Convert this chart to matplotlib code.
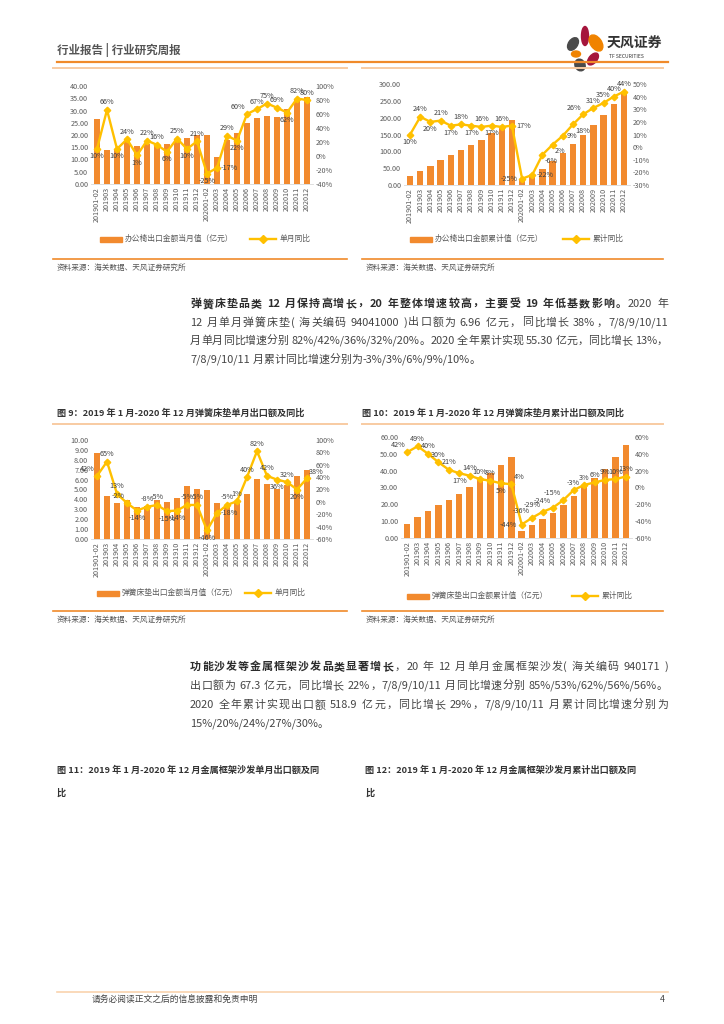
import re
import matplotlib.pyplot as plt
import numpy as np
from matplotlib.lines import Line2D
from matplotlib.patches import Rectangle, Ellipse

plt.rcParams['font.family'] = ['Noto Sans CJK SC', 'DejaVu Sans']

# ---- data ----
months = ['201901-02', '201903', '201904', '201905', '201906', '201907', '201908',
          '201909', '201910', '201911', '201912', '202001-02', '202003', '202004',
          '202005', '202006', '202007', '202008', '202009', '202010', '202011', '202012']

chair_month = [26.5, 13.8, 14.0, 17.5, 15.5, 16.3, 15.5, 16.2, 18.0, 18.8, 20.0,
               20.2, 11.0, 18.0, 20.8, 24.8, 27.0, 27.8, 27.3, 30.7, 34.3, 35.5]
chair_month_yoy = [10, 66, 10, 24, 1, 22, 16, 6, 25, 10, 21,
                   -25, -17, 29, 22, 60, 67, 75, 69, 62, 82, 80]

chair_cum = [26, 42, 55, 73, 88, 104, 118, 135, 153, 172, 193,
             18, 30, 48, 70, 96, 122, 150, 178, 209, 242, 276]
chair_cum_yoy = [10, 24, 20, 21, 17, 18, 17, 16, 17, 16, 17,
                 -25, -22, -6, 2, 9, 18, 26, 31, 35, 40, 44]

mattress_month = [8.72, 4.36, 3.66, 3.9, 3.2, 3.3, 3.9, 3.75, 4.1, 5.37, 5.07,
                  4.93, 3.62, 3.4, 3.7, 4.56, 6.04, 5.57, 5.1, 5.44, 6.34, 6.96]
mattress_month_yoy = [42, 65, 13, -2, -14, -8, -5, -15, -14, -5, -5,
                      -46, -18, -5, 1, 40, 82, 42, 36, 32, 20, 38]

mattress_cum = [8.3, 12.5, 16.2, 19.8, 22.8, 26.1, 30.1, 34.6, 38.5, 43.6, 48.1,
                4.2, 7.5, 11.3, 14.9, 19.8, 25.1, 30.5, 35.6, 41.0, 48.1, 55.3]
mattress_cum_yoy = [42, 49, 40, 30, 21, 17, 14, 10, 8, 5, 4,
                    -44, -36, -29, -24, -15, -3, 3, 6, 9, 10, 13]

# label placement per point (style only)
pos1 = ['b', 'a', 'b', 'a', 'b', 'a', 'a', 'b', 'a', 'b', 'a',
        'b', 'r', 'a', 'b', 'al', 'a', 'a', 'a', 'b', 'a', 'a']
pos2 = ['b', 'a', 'b', 'a', 'b', 'a', 'b', 'a', 'b', 'a', 'r',
        'l', 'r', 'br', 'br', 'r', 'br', 'al', 'a', 'a', 'a', 'a']
pos3 = ['al', 'a', 'a', 'al', 'b', 'a', 'a', 'b', 'b', 'a', 'a',
        'b', 'r', 'a', 'a', 'a', 'a', 'a', 'b', 'a', 'b', 'ar']
pos4 = ['al', 'a', 'a', 'a', 'a', 'b', 'a', 'a', 'a', 'b', 'ar',
        'l', 'al', 'al', 'al', 'al', 'a', 'a', 'a', 'a', 'a', 'a']

BAR_C = '#F28A2E'
LINE_C = '#FFC000'
TICK_C = '#595959'
ORANGE = '#F08A2A'
LIGHT = '#F8CBA2'

W, H = 724, 1024
fig = plt.figure(figsize=(7.24, 10.24), dpi=100)
renderer = fig.canvas.get_renderer()


def fx(x):
    return x / W


def fy(y):
    return 1 - y / H


def ftext(x, y, s, **kw):
    return fig.text(fx(x), fy(y), s, **kw)


def hline(x0, x1, y, color, lw):
    fig.add_artist(Line2D([fx(x0), fx(x1)], [fy(y), fy(y)], color=color, lw=lw))


OFF = {'a': ((0, 2.5), 'center', 'bottom'), 'b': ((0, -2.5), 'center', 'top'),
       'l': ((-3, 0), 'right', 'center'), 'r': ((3, 0), 'left', 'center'),
       'al': ((-1.5, 2), 'right', 'bottom'), 'ar': ((1.5, 2), 'left', 'bottom'),
       'br': ((1.5, -2), 'left', 'top')}


def draw_chart(box, bars, yoy, ylim, ystep, rlim, rstep, lbl_pos,
               bar_name, line_name, leg_y, leg_x):
    x0, y0, x1, y1 = box
    ax = fig.add_axes([fx(x0), fy(y1), fx(x1) - fx(x0), fy(y0) - fy(y1)])
    idx = np.arange(len(bars))
    ax.bar(idx, bars, width=0.62, color=BAR_C, zorder=2)
    ax.set_xlim(-0.6, len(bars) - 0.4)
    ax.set_ylim(*ylim)
    ax.set_yticks(np.arange(ylim[0], ylim[1] + ystep / 2, ystep))
    ax.yaxis.set_major_formatter(lambda v, p: f'{v:.2f}')
    ax.set_xticks(idx)
    ax.set_xticklabels(months, rotation=90, fontsize=4.7, color=TICK_C)
    ax.tick_params(length=0, pad=2, labelsize=5.2, labelcolor=TICK_C)
    for s in ['top', 'right', 'left']:
        ax.spines[s].set_visible(False)
    ax.spines['bottom'].set_color('#D9D9D9')
    ax.spines['bottom'].set_linewidth(0.6)

    ax2 = ax.twinx()
    y = np.array(yoy) / 100
    ax2.plot(idx, y, color=LINE_C, lw=1.7, marker='D', ms=3.3, zorder=3)
    ax2.set_ylim(*rlim)
    ax2.set_yticks(np.arange(rlim[0], rlim[1] + rstep / 2, rstep))
    ax2.yaxis.set_major_formatter(lambda v, p: f'{v * 100:.0f}%')
    ax2.tick_params(length=0, pad=2, labelsize=5.2, labelcolor=TICK_C)
    for s in ax2.spines.values():
        s.set_visible(False)
    for i, (v, p) in enumerate(zip(yoy, lbl_pos)):
        off, ha, va = OFF[p]
        ax2.annotate(f'{v}%', (i, v / 100), xytext=off, textcoords='offset points',
                     ha=ha, va=va, fontsize=5.2, color='#404040', annotation_clip=False)

    # legend
    fig.add_artist(Rectangle((fx(leg_x[0]), fy(leg_y + 2.5)), 22 / W, 5 / H,
                             color=BAR_C, transform=fig.transFigure))
    ftext(leg_x[0] + 25, leg_y, bar_name, fontsize=5.6, color=TICK_C, va='center')
    fig.add_artist(Line2D([fx(leg_x[1]), fx(leg_x[1] + 26)], [fy(leg_y), fy(leg_y)],
                          color=LINE_C, lw=1.7))
    fig.add_artist(Line2D([fx(leg_x[1] + 13)], [fy(leg_y)], color=LINE_C,
                          marker='D', ms=3.6))
    ftext(leg_x[1] + 30, leg_y, line_name, fontsize=5.6, color=TICK_C, va='center')


# ---- header ----
ftext(57, 50, '行业报告 | 行业研究周报', fontsize=8.3, color='#555555',
      fontweight='bold', va='center')
hline(57, 668, 61.5, ORANGE, 1.6)
logo = fig.add_axes([fx(562), fy(72), 46 / W, 50 / H])
logo.set_xlim(0, 46)
logo.set_ylim(50, 0)
logo.axis('off')
for (cx, cy, w, h, a, c) in [(11, 22, 9, 14, 35, '#4A4A4A'), (23, 14, 7, 19, 0, '#A5153C'),
                             (34, 21, 11, 18, -35, '#F08300'), (14, 32, 9, 6, 0, '#F08300'),
                             (31, 37, 8, 14, 40, '#A5153C'), (18, 43, 10, 12, -25, '#4A4A4A')]:
    logo.add_patch(Ellipse((cx, cy), w, h, angle=a, color=c))
ftext(607, 44, '天风证券', fontsize=10, fontweight='bold', color='#333333', va='center')
ftext(609, 57, 'TF SECURITIES', fontsize=3.6, color='#333333', va='center')
hline(53, 347, 67.5, LIGHT, 1.4)
hline(362, 663, 67.5, LIGHT, 1.4)

# ---- charts row 1 ----
draw_chart((91, 86, 313, 184), chair_month, chair_month_yoy, (0, 40), 5, (-0.4, 1.0), 0.2,
           pos1, '办公椅出口金额当月值（亿元）', '单月同比', 239, (100, 250))
draw_chart((404, 84, 630, 185), chair_cum, chair_cum_yoy, (0, 300), 50, (-0.3, 0.5), 0.1,
           pos2, '办公椅出口金额累计值（亿元）', '累计同比', 239, (410, 563))
hline(53, 347, 258.5, ORANGE, 1.2)
hline(362, 663, 258.5, ORANGE, 1.2)
ftext(57, 268, '资料来源：海关数据、天风证券研究所', fontsize=5.5, color='#555555', va='center')
ftext(366, 268, '资料来源：海关数据、天风证券研究所', fontsize=5.5, color='#555555', va='center')

# ---- paragraphs (justified between x=190 and x=668) ----
BODY = 7.9
PX0, PX1 = 190, 668
_probe = fig.text(0, 0, '', fontsize=BODY)


def text_w(s, bold):
    # advance width of s (the trailing 'x' keeps trailing spaces counted)
    _probe.set_fontweight('bold' if bold else 'normal')
    _probe.set_text(s + 'x')
    w1 = _probe.get_window_extent(renderer=renderer).width
    _probe.set_text('x')
    return w1 - _probe.get_window_extent(renderer=renderer).width


def tokens(s):
    return re.findall(r'[A-Za-z0-9.%/\-()]+| |.', s)


def para_line(y, bold, normal, justify=True):
    items = []
    done = ''
    for tk in tokens(bold):
        items.append((tk, True, text_w(done, True)))
        done += tk
    bw = text_w(bold, True) if bold else 0.0
    done = ''
    for tk in tokens(normal):
        items.append((tk, False, bw + text_w(done, False)))
        done += tk
    total = bw + text_w(normal, False)
    gap = (PX1 - PX0 - total) / (len(items) - 1) if justify else 0.0
    for k, (tk, b, o) in enumerate(items):
        if tk == ' ':
            continue
        ftext(PX0 + o + k * gap, y, tk, fontsize=BODY, va='center',
              fontweight='bold' if b else 'normal',
              color='#2b2b2b' if b else '#444444')


para_line(304, '弹簧床垫品类 12 月保持高增长，20 年整体增速较高，主要受 19 年低基数影响。', '2020 年')
para_line(322.5, '', '12 月单月弹簧床垫( 海关编码 94041000 )出口额为 6.96 亿元，同比增长 38%，7/8/9/10/11')
para_line(341, '', '月单月同比增速分别 82%/42%/36%/32%/20%。2020 全年累计实现 55.30 亿元，同比增长 13%，')
para_line(359.5, '', '7/8/9/10/11 月累计同比增速分别为-3%/3%/6%/9%/10%。', justify=False)

# ---- charts row 2 ----
ftext(57, 413, '图 9：2019 年 1 月-2020 年 12 月弹簧床垫单月出口额及同比', fontsize=6.6,
      fontweight='bold', color='#333333', va='center')
ftext(362, 413, '图 10：2019 年 1 月-2020 年 12 月弹簧床垫月累计出口额及同比', fontsize=6.6,
      fontweight='bold', color='#333333', va='center')
hline(53, 347, 423.5, LIGHT, 1.4)
hline(362, 663, 423.5, LIGHT, 1.4)
draw_chart((91, 440, 313, 539), mattress_month, mattress_month_yoy, (0, 10), 1, (-0.6, 1.0), 0.2,
           pos3, '弹簧床垫出口金额当月值（亿元）', '单月同比', 593, (97, 245))
draw_chart((401, 437, 632, 538), mattress_cum, mattress_cum_yoy, (0, 60), 10, (-0.6, 0.6), 0.2,
           pos4, '弹簧床垫出口金额累计值（亿元）', '累计同比', 596, (407, 572))
hline(53, 347, 610.5, ORANGE, 1.2)
hline(362, 663, 610.5, ORANGE, 1.2)
ftext(57, 620, '资料来源：海关数据、天风证券研究所', fontsize=5.5, color='#555555', va='center')
ftext(366, 620, '资料来源：海关数据、天风证券研究所', fontsize=5.5, color='#555555', va='center')

para_line(667, '功能沙发等金属框架沙发品类显著增长', '，20 年 12 月单月金属框架沙发( 海关编码 940171 )')
para_line(686, '', '出口额为 67.3 亿元，同比增长 22%，7/8/9/10/11 月同比增速分别 85%/53%/62%/56%/56%。')
para_line(705, '', '2020 全年累计实现出口额 518.9 亿元，同比增长 29%，7/8/9/10/11 月累计同比增速分别为')
para_line(723.5, '', '15%/20%/24%/27%/30%。', justify=False)

ftext(57, 770, '图 11：2019 年 1 月-2020 年 12 月金属框架沙发单月出口额及同', fontsize=6.6,
      fontweight='bold', color='#333333', va='center')
ftext(57, 793, '比', fontsize=6.6, fontweight='bold', color='#333333', va='center')
ftext(365, 770, '图 12：2019 年 1 月-2020 年 12 月金属框架沙发月累计出口额及同', fontsize=6.6,
      fontweight='bold', color='#333333', va='center')
ftext(365, 793, '比', fontsize=6.6, fontweight='bold', color='#333333', va='center')

# ---- footer ----
hline(57, 668, 991.5, '#F9D3AE', 1.2)
ftext(92, 1000, '请务必阅读正文之后的信息披露和免责申明', fontsize=6.3, color='#444444', va='center')
ftext(660, 1000, '4', fontsize=6.3, color='#444444', va='center')

_probe.set_text('')
fig.savefig('out.png', dpi=100)
